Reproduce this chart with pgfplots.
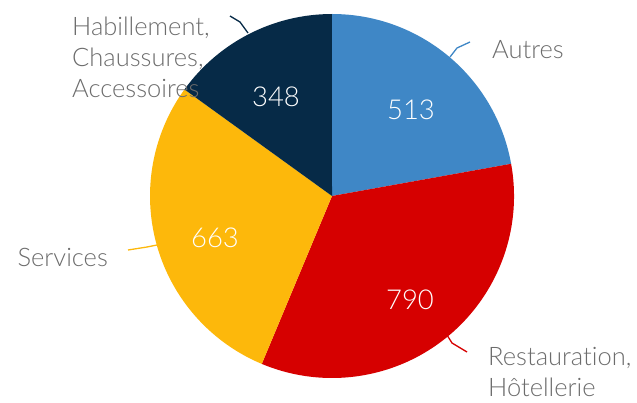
\documentclass[border=0pt]{standalone}
\usepackage{pgfplots}
\pgfplotsset{compat=1.18}
\usepackage{fontspec}
\setmainfont{Lato Light}[Ligatures={NoCommon}]
\definecolor{cAutres}{HTML}{3F87C6}
\definecolor{cResto}{HTML}{D60000}
\definecolor{cServ}{HTML}{FDB80B}
\definecolor{cHabil}{HTML}{062A47}
\definecolor{txt}{HTML}{6C6C6C}
\begin{document}
\begin{tikzpicture}
\begin{axis}[
  scale only axis, width=637pt, height=402pt,
  xmin=0, xmax=637, ymin=0, ymax=402,
  hide axis, clip=false,
]
\path (axis cs:0,0) rectangle (axis cs:637,402);
\pgfmathsetmacro{\total}{513+790+663+348}
\pgfmathsetmacro{\k}{360/\total}
\gdef\cum{0}
\foreach \v/\col in {513/cAutres, 790/cResto, 663/cServ, 348/cHabil}{
  \pgfmathsetmacro{\sa}{90-\k*\cum}
  \pgfmathsetmacro{\newcum}{\cum+\v}
  \pgfmathsetmacro{\ea}{90-\k*\newcum}
  \edef\temp{\noexpand\fill[\col] (axis cs:332,206) -- ++(\sa:182pt) arc[start angle=\sa, end angle=\ea, radius=182pt] -- cycle;}
  \temp
  \global\let\cum\newcum
}
% leader lines
\addplot[cAutres, line width=1.3pt] coordinates {(450,345) (457,354) (470,360)};
\addplot[cResto, line width=1.3pt] coordinates {(447,67) (452,59) (467,50)};
\addplot[cServ, line width=1.3pt] coordinates {(128,152) (147,155) (157,157)};
\addplot[cHabil, line width=1.3pt] coordinates {(230,386) (240,380) (248,369)};
% values
\begin{scope}[every node/.style={font=\fontsize{27.4}{32}\selectfont, text=white}]
\node at (axis cs:411,292) {513};
\node at (axis cs:410,102) {790};
\node at (axis cs:215,164) {663};
\node at (axis cs:276,305) {348};
\end{scope}
% labels
\begin{scope}[every node/.style={font=\fontsize{25.5}{31}\selectfont, text=txt, inner sep=0pt}]
\node[anchor=west] at (axis cs:492,352) {Autres};
\node[anchor=west, align=left] at (axis cs:488,30) {Restauration,\\Hôtellerie};
\node[anchor=east] at (axis cs:108,145) {Services};
\node[anchor=west, align=left] at (axis cs:72,345) {Habillement,\\Chaussures,\\Accessoires};
\end{scope}
\end{axis}
\end{tikzpicture}
\end{document}
